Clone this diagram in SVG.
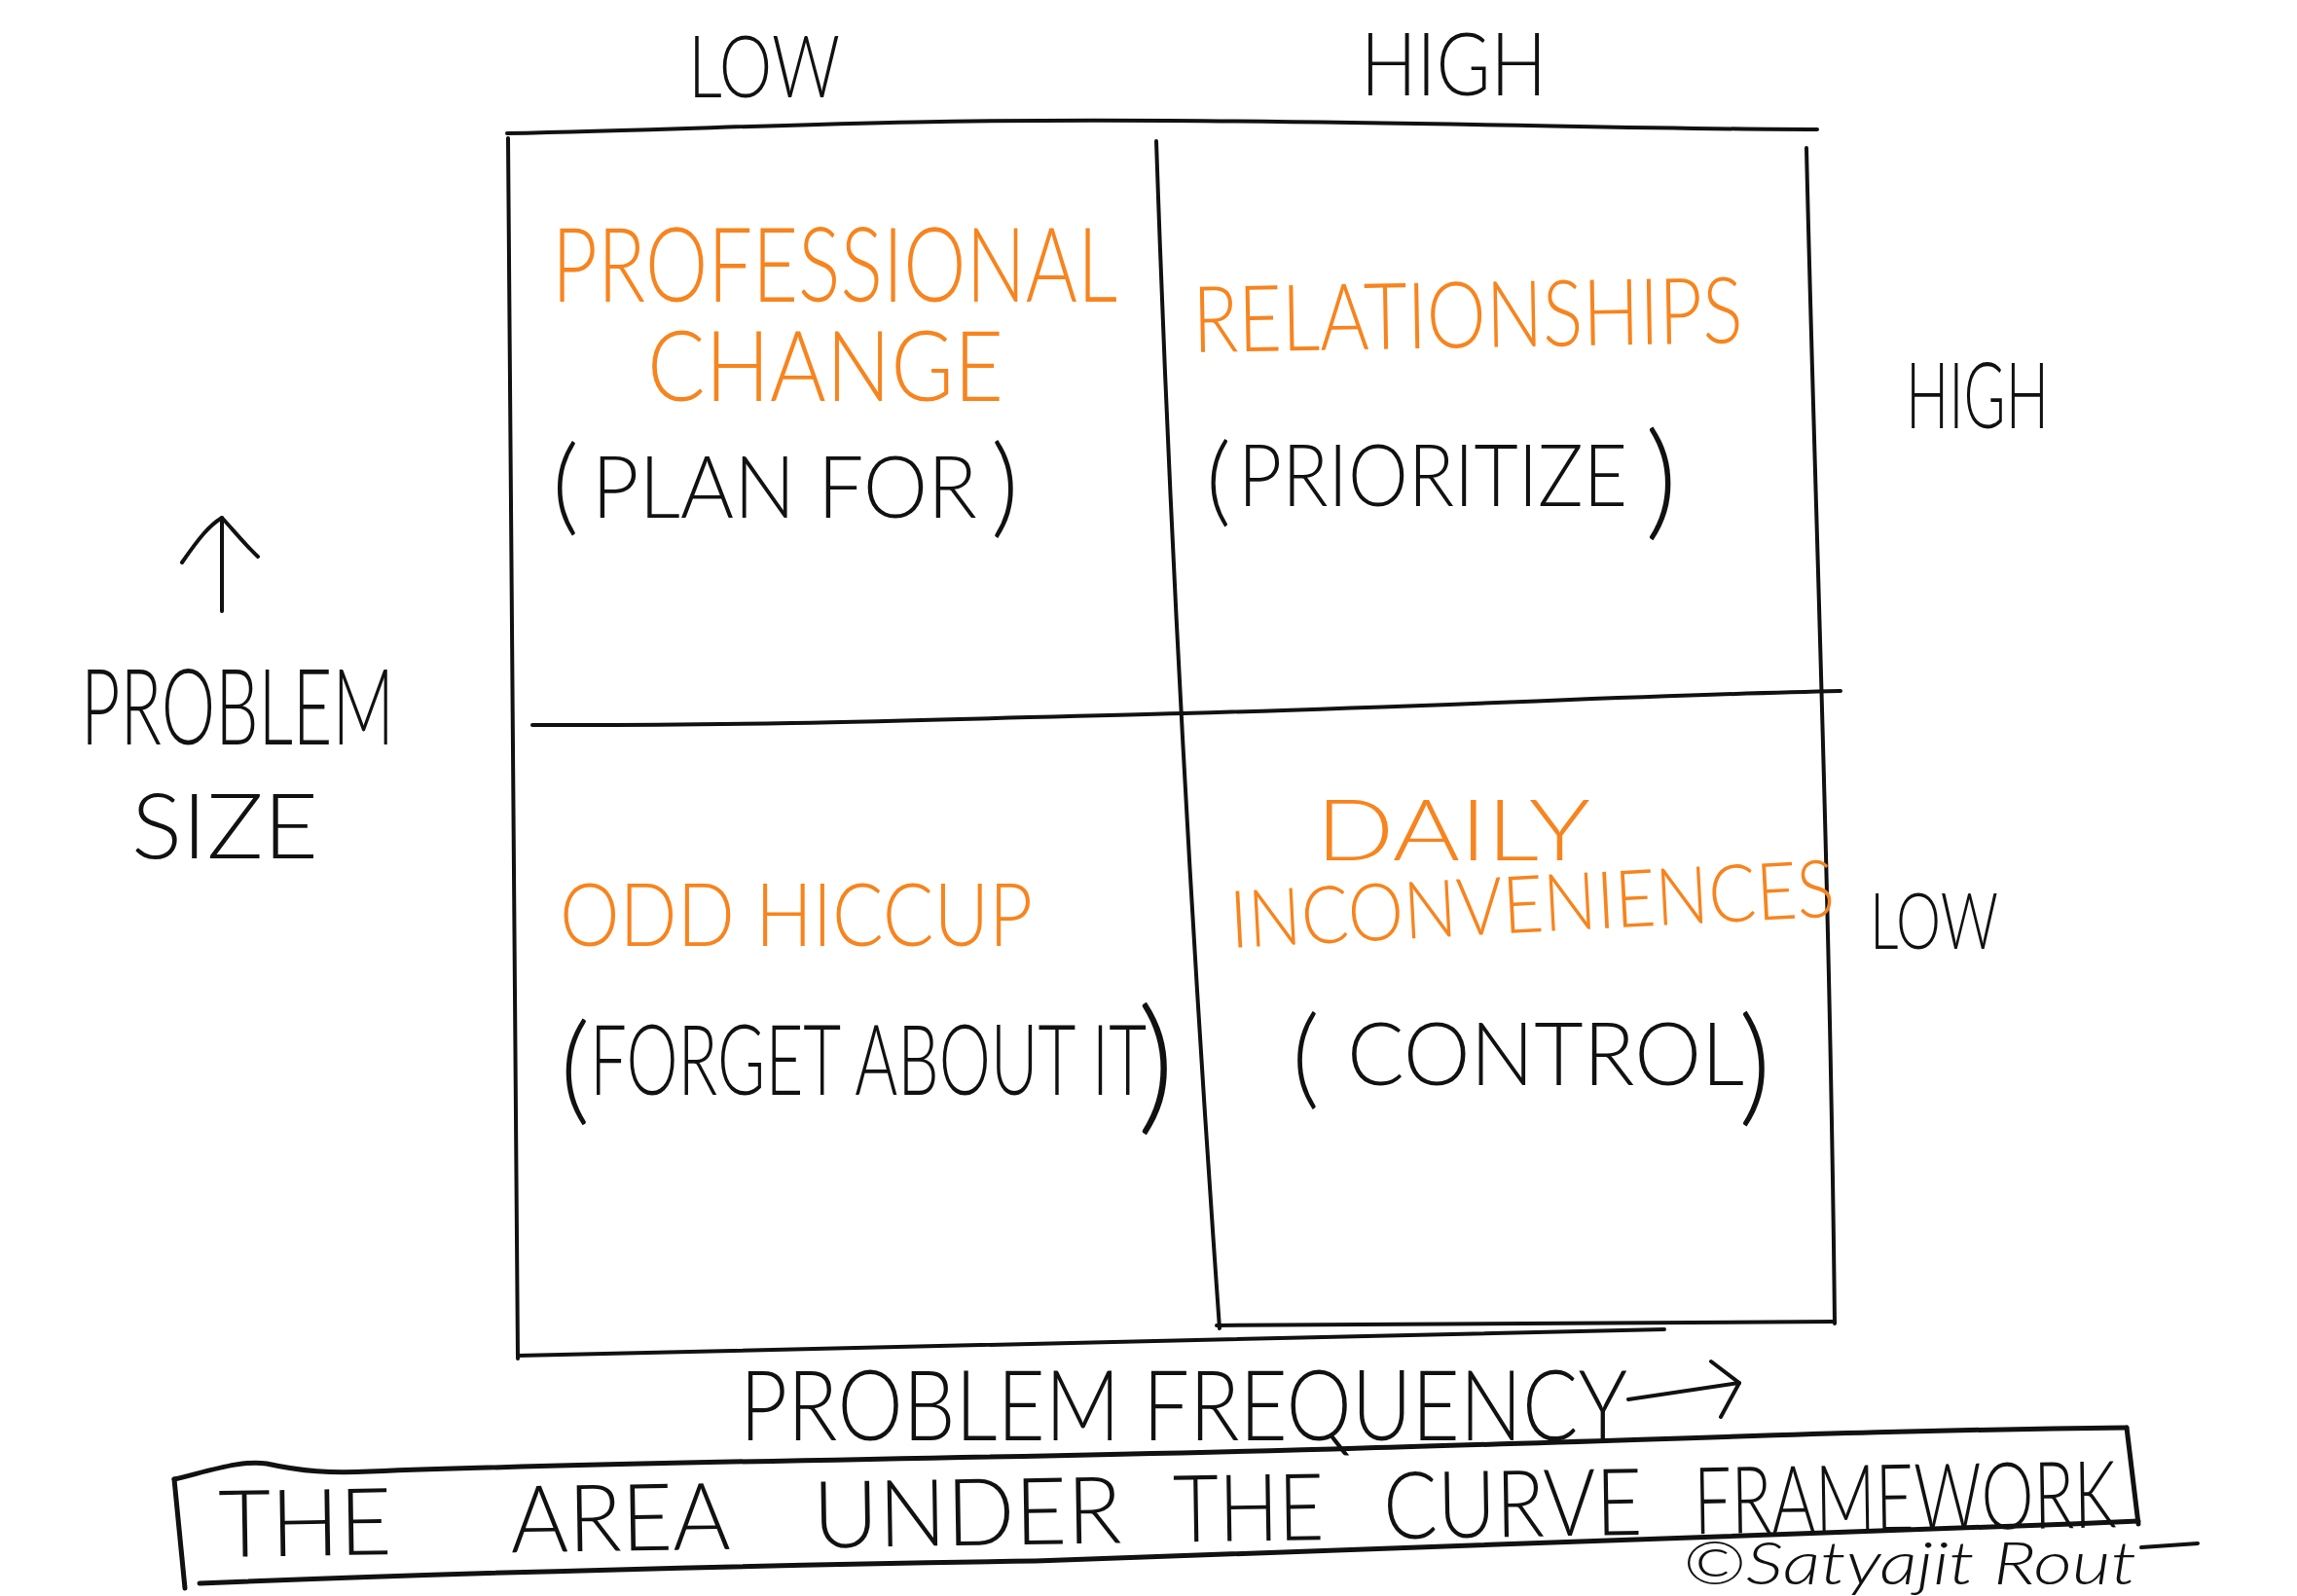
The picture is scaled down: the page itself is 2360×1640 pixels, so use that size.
<svg xmlns="http://www.w3.org/2000/svg" width="2360" height="1640" viewBox="0 0 2360 1640">
<style>
  .ink{fill:#111;font-family:Lato,"Liberation Sans",sans-serif;font-weight:300}
  .org{fill:#F7841E;font-family:Lato,"Liberation Sans",sans-serif;font-weight:300}
  .ln{fill:none;stroke:#111;stroke-width:4;stroke-linecap:round;stroke-linejoin:round}
  .thick{stroke-width:5}
</style>
<rect width="2360" height="1640" fill="#fff"/>
<g id="connectors">
  <path class="ln" d="M521,137 C760,132 900,122 1200,124 C1500,126 1700,133 1867,133"/>
  <path class="ln" d="M522,142 C524,500 530,900 532,1396"/>
  <path class="ln" d="M1188,145 C1200,500 1220,900 1253,1365"/>
  <path class="ln" d="M1856,152 C1864,500 1880,900 1885,1360"/>
  <path class="ln" d="M547,745 C800,746 1000,738 1216,733 C1500,725 1700,714 1891,710"/>
  <path class="ln" d="M532,1393 C900,1384 1300,1372 1710,1366"/>
  <path class="ln" d="M1250,1362 L1885,1358"/>
  <path class="ln" d="M228,628 L228,532"/>
  <path class="ln" d="M187,578 C205,552 215,540 228,532 C240,545 252,560 265,572"/>
  <path class="ln" d="M1673,1438 L1787,1421"/>
  <path class="ln" d="M1758,1399 L1787,1421 L1768,1456"/>
  <path class="ln thick" d="M179,1520 C220,1510 250,1500 274,1504 C310,1512 340,1514 380,1512 C700,1500 1000,1500 1400,1488 C1700,1480 1900,1470 2185,1467"/>
  <path class="ln thick" d="M2185,1467 L2197,1566"/>
  <path class="ln thick" d="M179,1520 L190,1632"/>
  <path class="ln thick" d="M205,1627 C500,1615 800,1608 1064,1604 C1500,1590 1900,1572 2128,1566 L2197,1563"/>
  <path class="ln" d="M2200,1590 L2258,1586"/>
</g>
<g id="axis-top-low"><text class="ink" x="707" y="100" font-size="88" textLength="156" lengthAdjust="spacingAndGlyphs">LOW</text></g>
<g id="axis-top-high"><text class="ink" x="1398" y="98" font-size="90" textLength="191" lengthAdjust="spacingAndGlyphs">HIGH</text></g>
<g id="axis-right-high"><text class="ink" x="1958" y="440" font-size="95" textLength="147" lengthAdjust="spacingAndGlyphs">HIGH</text></g>
<g id="axis-right-low"><text class="ink" x="1921" y="975" font-size="80" textLength="132" lengthAdjust="spacingAndGlyphs">LOW</text></g>
<g id="axis-size">
  <text class="ink" x="83" y="765" font-size="108" textLength="322" lengthAdjust="spacingAndGlyphs">PROBLEM</text>
  <text class="ink" x="135" y="882" font-size="92" textLength="192" lengthAdjust="spacingAndGlyphs">SIZE</text>
</g>
<g id="q-professional-change">
  <text class="org" x="567" y="310" font-size="106" textLength="581" lengthAdjust="spacingAndGlyphs">PROFESSIONAL</text>
  <text class="org" x="665" y="412" font-size="100" textLength="366" lengthAdjust="spacingAndGlyphs">CHANGE</text>
  <text class="ink" font-size="88"><tspan x="567" y="536" font-size="108">(</tspan><tspan x="608" y="532" textLength="396" lengthAdjust="spacingAndGlyphs">PLAN FOR</tspan><tspan x="1018" y="538" font-size="112">)</tspan></text>
</g>
<g id="q-relationships">
  <text class="org" x="1226" y="362" font-size="95" textLength="565" lengthAdjust="spacingAndGlyphs" transform="rotate(-1 1226 362)">RELATIONSHIPS</text>
  <text class="ink" font-size="88"><tspan x="1239" y="528" font-size="100">(</tspan><tspan x="1272" y="520" textLength="400" lengthAdjust="spacingAndGlyphs">PRIORITIZE</tspan><tspan x="1690" y="538" font-size="130">)</tspan></text>
</g>
<g id="q-odd-hiccup">
  <text class="org" x="575" y="972" font-size="90" textLength="486" lengthAdjust="spacingAndGlyphs">ODD HICCUP</text>
  <text class="ink" font-size="100"><tspan x="575" y="1140" font-size="122">(</tspan><tspan x="606" y="1125" textLength="572" lengthAdjust="spacingAndGlyphs">FORGET ABOUT IT</tspan><tspan x="1168" y="1146" font-size="152">)</tspan></text>
</g>
<g id="q-daily-inconveniences">
  <text class="org" x="1352" y="884" font-size="86" textLength="282" lengthAdjust="spacingAndGlyphs">DAILY</text>
  <text class="org" x="1265" y="974" font-size="82" textLength="622" lengthAdjust="spacingAndGlyphs" transform="rotate(-3 1265 974)">INCONVENIENCES</text>
  <text class="ink" font-size="90"><tspan x="1327" y="1125" font-size="112">(</tspan><tspan x="1384" y="1115" textLength="408" lengthAdjust="spacingAndGlyphs">CONTROL</tspan><tspan x="1786" y="1140" font-size="132">)</tspan></text>
</g>
<g id="axis-frequency">
  <text class="ink" x="760" y="1480" font-size="100" textLength="912" lengthAdjust="spacingAndGlyphs">PROBLEM FREQUENCY</text>
</g>
<g id="title" transform="rotate(-0.9 225 1604)">
  <text class="ink" font-size="96" y="1600"><tspan x="225" textLength="178" lengthAdjust="spacingAndGlyphs">THE</tspan> <tspan x="525" textLength="223" lengthAdjust="spacingAndGlyphs">AREA</tspan> <tspan x="836" textLength="317" lengthAdjust="spacingAndGlyphs">UNDER</tspan> <tspan x="1206" textLength="155" lengthAdjust="spacingAndGlyphs">THE</tspan> <tspan x="1422" textLength="266" lengthAdjust="spacingAndGlyphs">CURVE</tspan> <tspan x="1741" textLength="434" lengthAdjust="spacingAndGlyphs">FRAMEWORK</tspan></text>
</g>
<g id="signature">
  <text class="ink" x="1729" y="1628" font-size="62" font-style="italic" font-weight="700" textLength="466" lengthAdjust="spacingAndGlyphs">©Satyajit Rout</text>
</g>
</svg>
